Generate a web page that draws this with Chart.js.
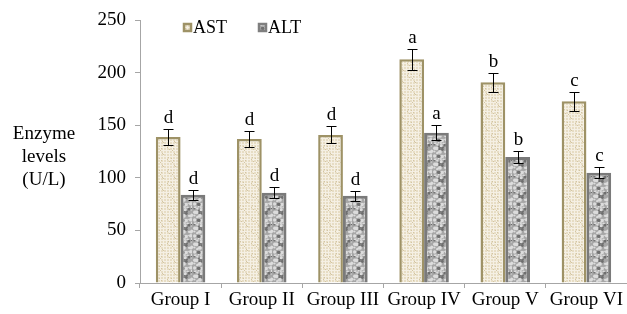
<!DOCTYPE html>
<html>
<head>
<meta charset="utf-8">
<script src="https://cdn.jsdelivr.net/npm/chart.js@4.4.0/dist/chart.umd.min.js"></script>
<style>
  html, body { margin:0; padding:0; background:#fff; }
  #wrap { width:627px; height:314px; position:relative; }
</style>
</head>
<body>
<div id="wrap"><canvas id="enzymeChart"></canvas></div>
<script>
// data
const groups = ["Group I", "Group II", "Group III", "Group IV", "Group V", "Group VI"];
const astValues = [139, 137, 141, 213, 191, 173];
const altValues = [84, 86, 83, 143, 120, 105];
const astErr = [8, 8, 8, 10, 9, 9];
const altErr = [5, 5, 5, 7, 6, 5];
const astLetters = ["d", "d", "d", "a", "b", "c"];
const altLetters = ["d", "d", "d", "a", "b", "c"];
const yTicks = [0, 50, 100, 150, 200, 250];

const SERIF = "'Liberation Serif', 'DejaVu Serif', serif";

// tiny deterministic hash for the texture
function hash(n){ const s = Math.sin(n * 12.9898) * 43758.5453; return s - Math.floor(s); }

// woven beige pattern
function makeAstPattern(ctx){
  const c = document.createElement("canvas");
  c.width = 12; c.height = 12;
  const g = c.getContext("2d");
  g.fillStyle = "#e7ddc4"; g.fillRect(0,0,12,12);
  g.fillStyle = "#f5f0e4";
  for (let i = 0; i < 12; i += 3) { g.fillRect(0, i, 12, 1); g.fillRect(i + 1, 0, 1, 12); }
  g.fillStyle = "#d3c5a2";
  for (let k = 0; k < 8; k++) {
    g.fillRect(Math.floor(hash(k+1)*12), Math.floor(hash(k+50)*12), 1, 1);
  }
  return ctx.createPattern(c, "repeat");
}

// grey mottled pattern
function makeAltPattern(ctx){
  const c = document.createElement("canvas");
  c.width = 16; c.height = 16;
  const g = c.getContext("2d");
  g.fillStyle = "#a6a6a6"; g.fillRect(0,0,16,16);
  for (let k = 0; k < 36; k++) {
    const x = hash(k+3)*16, y = hash(k+91)*16, r = 0.6 + hash(k+7)*1.3;
    g.fillStyle = hash(k+13) > 0.4 ? "#dcdcdc" : "#6f6f6f";
    g.beginPath(); g.arc(x, y, r, 0, Math.PI*2); g.fill();
  }
  return ctx.createPattern(c, "repeat");
}

const canvas = document.getElementById("enzymeChart");
const ctx = canvas.getContext("2d");
const astFill = makeAstPattern(ctx);
const altFill = makeAltPattern(ctx);

// error bars, letters, legend, y title
const extrasPlugin = {
  id: "extras",
  afterDatasetsDraw(chart){
    const c = chart.ctx;
    const y = chart.scales.y;
    const errs = [astErr, altErr];
    const letters = [astLetters, altLetters];
    c.save();
    c.strokeStyle = "#000"; c.lineWidth = 1;
    c.fillStyle = "#000";
    c.font = "19px " + SERIF;
    c.textAlign = "center"; c.textBaseline = "bottom";
    chart.data.datasets.forEach((ds, di) => {
      chart.getDatasetMeta(di).data.forEach((bar, i) => {
        const v = ds.data[i], e = errs[di][i];
        const x = Math.round(bar.x) + 0.5;
        const top = Math.round(y.getPixelForValue(v + e)) + 0.5;
        const bot = Math.round(y.getPixelForValue(v - e)) + 0.5;
        c.beginPath();
        c.moveTo(x, top); c.lineTo(x, bot);
        c.moveTo(x - 5, top); c.lineTo(x + 5, top);
        c.moveTo(x - 5, bot); c.lineTo(x + 5, bot);
        c.stroke();
        c.fillText(letters[di][i], x, top - 2);
      });
    });

    // legend
    c.font = "18px " + SERIF;
    c.textAlign = "left"; c.textBaseline = "middle";
    const items = [
      { label: "AST", fill: astFill, border: "#9e9266", x: 184 },
      { label: "ALT", fill: altFill, border: "#7f7f7f", x: 259 }
    ];
    items.forEach(it => {
      c.fillStyle = it.fill;
      c.fillRect(it.x, 24, 7, 7);
      c.strokeStyle = it.border; c.lineWidth = 2.5;
      c.strokeRect(it.x, 24, 7, 7);
      c.fillStyle = "#000";
      c.fillText(it.label, it.x + 9, 28);
    });

    // y axis title, horizontal in three lines
    c.font = "19px " + SERIF;
    c.textAlign = "center";
    ["Enzyme", "levels", "(U/L)"].forEach((t, k) => c.fillText(t, 44, 134 + k * 23));
    c.restore();
  }
};

new Chart(ctx, {
  type: "bar",
  data: {
    labels: groups,
    datasets: [
      { label: "AST", data: astValues, backgroundColor: astFill, borderColor: "#9e9266", borderWidth: 2.5 },
      { label: "ALT", data: altValues, backgroundColor: altFill, borderColor: "#7a7a7a", borderWidth: 3 }
    ]
  },
  options: {
    responsive: true,
    maintainAspectRatio: false,
    animation: false,
    layout: { padding: { top: 19, right: 0, left: 0, bottom: 0 } },
    datasets: { bar: { categoryPercentage: 0.61, barPercentage: 1.0 } },
    plugins: { legend: { display: false }, tooltip: { enabled: false } },
    scales: {
      x: {
        grid: { display: true, offset: true, drawOnChartArea: false, tickLength: 5, color: "#a6a6a6" },
        border: { color: "#a6a6a6" },
        ticks: { color: "#000", font: { family: SERIF, size: 19 }, padding: 1 },
        afterFit(s){ s.height = 31; }
      },
      y: {
        min: 0, max: 250,
        afterBuildTicks(s){ s.ticks = yTicks.map(v => ({ value: v })); },
        grid: { display: true, drawOnChartArea: false, tickLength: 5, color: "#a6a6a6" },
        border: { color: "#a6a6a6" },
        ticks: { color: "#000", font: { family: SERIF, size: 19 }, padding: 9 },
        afterFit(s){ s.width = 140; }
      }
    }
  },
  plugins: [extrasPlugin]
});
</script>
</body>
</html>
